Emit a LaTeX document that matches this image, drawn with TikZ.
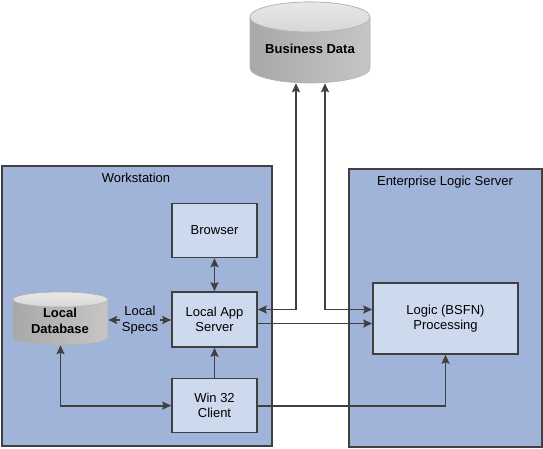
\documentclass[tikz,border=0pt]{standalone}
\usepackage{fontspec}
\setmainfont{Liberation Sans}
\usepackage{tikz}
\usetikzlibrary{positioning}
\usetikzlibrary{arrows.meta,calc}
\definecolor{areablue}{RGB}{160,180,217}
\definecolor{boxblue}{RGB}{205,217,237}
\definecolor{linegray}{RGB}{64,64,64}
\pgfkeys{tikz/myarea/.style={draw=linegray,line width=1.8pt,fill=areablue,inner sep=0pt}}
\pgfkeys{tikz/mybox/.style={draw=linegray,line width=1.6pt,fill=boxblue,minimum width=85pt,minimum height=54pt,inner sep=0pt,align=center}}
\pgfkeys{tikz/mylink/.style={draw=linegray,line width=1.8pt}}
\pgfkeys{tikz/mydisk/.style={left color=gray!68,middle color=gray!30,right color=gray!45,draw=gray!60,line width=0.6pt}}

\begin{document}
\begin{tikzpicture}[x=1pt,y=-1pt,font=\fontsize{13}{15.5}\selectfont,>={Stealth[length=9pt,width=8pt,inset=1.5pt]}]
	\useasboundingbox (0,0) rectangle (543,449);

	\node[myarea,minimum width=270pt,minimum height=280pt] (ws) at (137,306) {};
	\node (wsl) at (136,178) {Workstation};
	\node[myarea,minimum width=193pt,minimum height=278pt] (els) at (445.5,308) {};
	\node (elsl) at (445,182) {Enterprise Logic Server};

	\node[mybox,minimum height=55pt] (las) at (214.5,319.5) {Local App\\Server};
	\node[mybox,above=33pt of las] (br) {Browser};
	\node[mybox,below=30pt of las] (wc) {Win 32\\Client};
	\node[mybox,minimum width=145pt,minimum height=71pt] (lg) at (445.5,318.5) {Logic (BSFN)\\Processing};

	% business data
	\draw[mydisk] (250,17) -- (250,68) arc[start angle=180,end angle=360,x radius=60pt,y radius=15pt] -- (370,17) arc[start angle=0,end angle=180,x radius=60pt,y radius=15pt] -- cycle;
	\draw[draw=gray!60,top color=gray!18,bottom color=gray!32,line width=0.6pt] (310,17) ellipse [x radius=60pt,y radius=15pt];
	\node[inner sep=0pt,minimum width=120pt,minimum height=81pt] (bd) at (310,42.5) {};
	\node[font=\fontsize{13}{15.5}\selectfont\bfseries] (bdl) at (310,49) {Business Data};

	% local database
	\draw[mydisk] (13,299.5) -- (13,337.5) arc[start angle=180,end angle=360,x radius=47.5pt,y radius=7.5pt] -- (108,299.5) arc[start angle=0,end angle=180,x radius=47.5pt,y radius=7.5pt] -- cycle;
	\draw[draw=gray!60,top color=gray!18,bottom color=gray!32,line width=0.6pt] (60.5,299.5) ellipse [x radius=47.5pt,y radius=7.5pt];
	\node[inner sep=0pt,minimum width=95pt,minimum height=53pt] (ldb) at (60.5,318.5) {};
	\node[font=\fontsize{13}{15.5}\selectfont\bfseries,align=center] (ldbl) at (60,321) {Local\\Database};

	\node[align=center,inner sep=2pt] (ls) at (140,320) {Local\\Specs};

	\coordinate (lasin) at ([yshift=10pt]las.east);
	\coordinate (lasout) at ([yshift=-4pt]las.east);

	\draw[mylink,<->] (br) -- (las);
	\draw[mylink,->] (wc) -- (las);
	\draw[mylink,->] (ls.west) -- (ls.west -| ldb.east);
	\draw[mylink,->] (ls.east) -- (ls.east -| las.west);
	\draw[mylink,<->] (ldb.south) |- (wc.west);
	\draw[mylink,->] (wc.east) -| (lg.south);
	\draw[mylink,->] (lasout) -- (lasout -| lg.west);
	\draw[mylink,<->] (lasin) -| ([xshift=-14pt]bd.south);
	\draw[mylink,<->] ([xshift=15pt]bd.south) |- (lg.west |- lasin);

\end{tikzpicture}
\end{document}
